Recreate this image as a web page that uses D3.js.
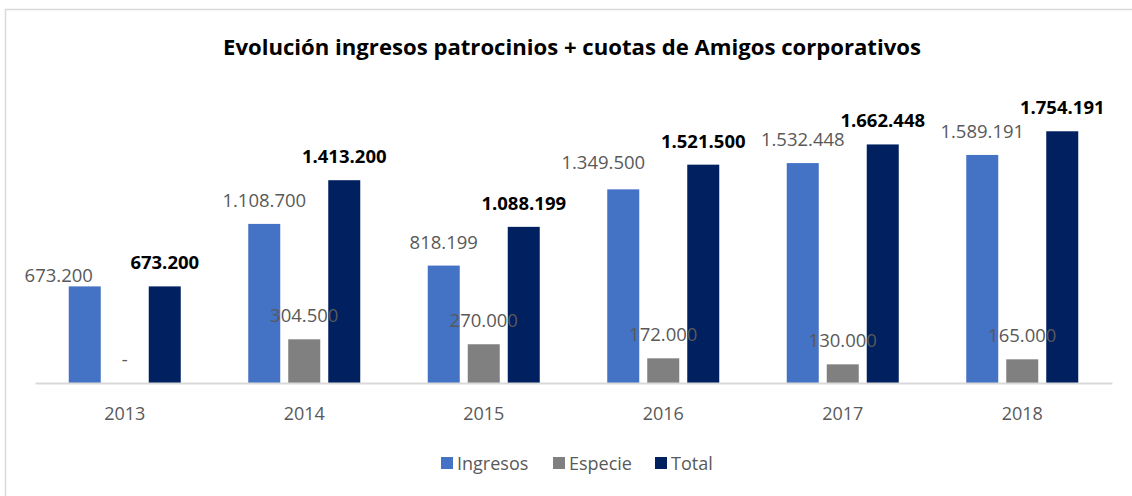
<!DOCTYPE html>
<html>
<head>
<meta charset="utf-8">
<script src="https://cdn.jsdelivr.net/npm/d3@7"></script>
<style>
  body { margin: 0; background: #fff; }
  svg { display: block; font-family: "Open Sans", sans-serif; }
</style>
</head>
<body>
<div id="chart-area"></div>
<script>
const years = ["2013", "2014", "2015", "2016", "2017", "2018"];
const seriesNames = ["Ingresos", "Especie", "Total"];
const ingresos = [673200, 1108700, 818199, 1349500, 1532448, 1589191];
const especie = [0, 304500, 270000, 172000, 130000, 165000];
const total = [673200, 1413200, 1088199, 1521500, 1662448, 1754191];
const colors = ["#4472c4", "#808080", "#002060"];

const width = 1132,
  height = 496;

const margin = { top: 96, right: 20, bottom: 113, left: 35 };
const plotW = 1112 - margin.left;
const plotH = 383 - margin.top;

const svg = d3
  .select("#chart-area")
  .append("svg")
  .attr("width", width)
  .attr("height", height);

// outer frame (right and bottom edges fall outside the picture)
svg
  .append("rect")
  .attr("x", 5.5)
  .attr("y", 9.5)
  .attr("width", 1140)
  .attr("height", 500)
  .attr("fill", "none")
  .attr("stroke", "#d9d9d9")
  .attr("stroke-width", 1.5);

// Title
svg
  .append("text")
  .attr("x", 572)
  .attr("y", 55)
  .attr("text-anchor", "middle")
  .attr("font-weight", "bold")
  .attr("font-size", "22px")
  .attr("textLength", 698)
  .attr("lengthAdjust", "spacingAndGlyphs")
  .attr("fill", "#000")
  .text("Evolución ingresos patrocinios + cuotas de Amigos corporativos");

const g = svg
  .append("g")
  .attr("transform", "translate(" + margin.left + "," + margin.top + ")");

// Scales
const x0 = d3.scaleBand().domain(years).range([0, plotW]);
const x1 = d3
  .scaleBand()
  .domain(seriesNames)
  .range([0, 112])
  .paddingInner(0.2);
const yScale = d3.scaleLinear().domain([0, 2000000]).range([plotH, 0]);

const rows = years.map((yr, i) => ({
  year: yr,
  values: [ingresos[i], especie[i], total[i]]
}));

// small manual nudges Excel applied to a couple of labels
const labelNudge = {
  "2013-Ingresos": { dx: -26, dy: 13 },
  "2016-Ingresos": { dx: -20, dy: -3 }
};

const fmt = v => (v === 0 ? "-" : d3.format(",")(v).replace(/,/g, "."));

const groups = g
  .selectAll(".year")
  .data(rows)
  .enter()
  .append("g")
  .attr("class", "year")
  .attr(
    "transform",
    d => "translate(" + (x0(d.year) + x0.bandwidth() / 2 - 56) + ",0)"
  );

const cells = d =>
  d.values.map((v, j) => ({ year: d.year, s: seriesNames[j], v: v, j: j }));

groups
  .selectAll("rect")
  .data(cells)
  .enter()
  .append("rect")
  .attr("x", d => x1(d.s))
  .attr("y", d => yScale(d.v))
  .attr("width", x1.bandwidth())
  .attr("height", d => plotH - yScale(d.v))
  .attr("fill", d => colors[d.j]);

groups
  .selectAll("text")
  .data(cells)
  .enter()
  .append("text")
  .attr("x", d => {
    const n = labelNudge[d.year + "-" + d.s];
    return x1(d.s) + x1.bandwidth() / 2 + (n ? n.dx : 0);
  })
  .attr("y", d => {
    const n = labelNudge[d.year + "-" + d.s];
    return yScale(d.v) - 17 + (n ? n.dy : 0);
  })
  .attr("text-anchor", "middle")
  .attr("font-size", "18.5px")
  .attr("font-weight", d => (d.j === 2 ? "bold" : "normal"))
  .attr("fill", d => (d.j === 2 ? "#000" : "#595959"))
  .text(d => fmt(d.v));

// X axis
const xAxisGroup = g
  .append("g")
  .attr("class", "x axis")
  .attr("transform", "translate(0," + plotH + ")")
  .call(d3.axisBottom(x0).tickSize(0).tickPadding(0));
xAxisGroup.select(".domain").attr("stroke", "#d9d9d9").attr("stroke-width", 2);
xAxisGroup
  .selectAll("text")
  .attr("y", 37)
  .attr("dy", 0)
  .attr("font-size", "18px")
  .attr("font-family", "Open Sans, sans-serif")
  .attr("fill", "#595959");

// Legend
const legendX = [441, 553, 655];
const legend = svg
  .selectAll(".legend")
  .data(seriesNames)
  .enter()
  .append("g")
  .attr("class", "legend")
  .attr("transform", (d, i) => "translate(" + legendX[i] + ",457)");
legend
  .append("rect")
  .attr("width", 12)
  .attr("height", 12)
  .attr("fill", (d, i) => colors[i]);
legend
  .append("text")
  .attr("x", 16)
  .attr("y", 13)
  .attr("font-size", "18px")
  .attr("fill", "#595959")
  .text(d => d);
</script>
</body>
</html>
